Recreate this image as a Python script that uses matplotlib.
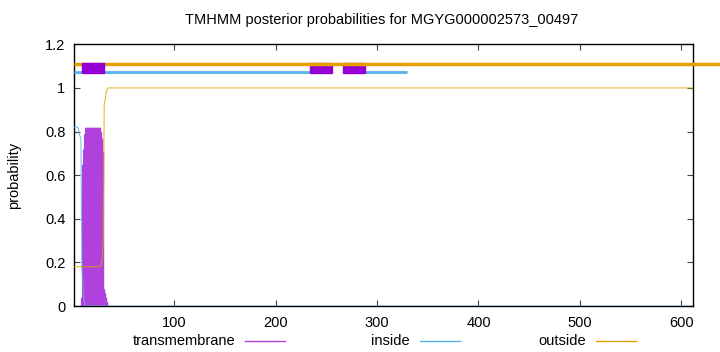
import numpy as np
import matplotlib
matplotlib.use('Agg')
import matplotlib.pyplot as plt
from matplotlib.lines import Line2D
from matplotlib.patches import Rectangle

plt.rcParams['font.family'] = ['Liberation Sans', 'DejaVu Sans']

title = 'TMHMM posterior probabilities for MGYG000002573_00497'
seq_len = 611

# posterior probabilities per residue, tail is flat
tm_head = [0, 0, 0, 0, 0, 0, 0, 0.04, 0.65, 0.72, 0.79, 0.82,
           0.82, 0.82, 0.82, 0.82, 0.82, 0.82, 0.82, 0.82, 0.82, 0.82,
           0.82, 0.82, 0.82, 0.82, 0.82, 0.80, 0.77, 0.71, 0.08, 0.06,
           0.04, 0.02, 0]
inside_head = [0.82, 0.82, 0.82, 0.82, 0.82, 0.80, 0.78, 0.77, 0.18,
               0.09, 0.03, 0]
outside_head = [0.18] * 27 + [0.19, 0.22, 0.28, 0.92, 0.95, 0.98, 0.995, 1.0]

tm = np.array(tm_head + [0.0] * (seq_len - len(tm_head)))
inside = np.array(inside_head + [0.0] * (seq_len - len(inside_head)))
outside = np.array(outside_head + [1.0] * (seq_len - len(outside_head)))
res = np.arange(1, seq_len + 1)

# predicted topology bar on top
tm_segments = [(9, 31), (234, 256), (266, 288)]
inside_segments = [(1, 9), (31, 234), (288, 330)]
outside_span = (1, 638)

c_tm = '#9400d3'
c_tm_fill = '#b041dc'
c_in = '#56b4e9'
c_out = '#e69f00'

fig = plt.figure(figsize=(7.2, 3.52), dpi=100)
ax = fig.add_axes([73.8 / 720, 1 - 306 / 352, (692.5 - 73.8) / 720, (306 - 44.3) / 352])

ax.fill_between(res, tm, step='mid', color=c_tm_fill, lw=0, zorder=2)
ax.plot(res, inside, color=c_in, lw=0.8, alpha=0.8, zorder=3)
ax.plot(res, outside, color=c_out, lw=0.8, alpha=0.75, zorder=3)

for s, e in inside_segments:
    ax.plot([s, e], [1.073, 1.073], color=c_in, lw=2.0, solid_capstyle='butt', zorder=3)
ax.plot(outside_span, [1.110, 1.110], color=c_out, lw=2.5, solid_capstyle='butt',
        zorder=4, clip_on=False)
for i, (s, e) in enumerate(tm_segments):
    ax.add_patch(Rectangle((s, 1.067), e - s, 0.046, color=c_tm,
                           zorder=5 if i == 0 else 3))

ax.set_xlim(1, seq_len)
ax.set_ylim(0, 1.2)
ax.set_xticks([100, 200, 300, 400, 500, 600])
ax.set_yticks([0, 0.2, 0.4, 0.6, 0.8, 1.0, 1.2])
ax.set_yticklabels(['0', '0.2', '0.4', '0.6', '0.8', '1', '1.2'])
ax.tick_params(direction='in', length=4, width=0.8, top=True, right=True,
               labelsize=10.5, pad=6, color='#444444')
ax.tick_params(axis='x', pad=7)
for sp in ax.spines.values():
    sp.set_linewidth(1.0)
ax.set_ylabel('probability', fontsize=10.5, labelpad=17)
fig.text(382 / 720, 1 - 20 / 352, title, ha='center', va='center', fontsize=10.5)

# gnuplot-style key below the plot
keys = [('transmembrane', c_tm_fill, 285), ('inside', c_in, 460), ('outside', c_out, 636)]
ky = 1 - 341 / 352
for label, col, xend in keys:
    fig.text((xend - 50) / 720, ky, label, ha='right', va='center', fontsize=10.5)
    fig.add_artist(Line2D([(xend - 40) / 720, xend / 720], [ky, ky],
                          transform=fig.transFigure, color=col, lw=1.0))

fig.savefig('out.png', dpi=100)
